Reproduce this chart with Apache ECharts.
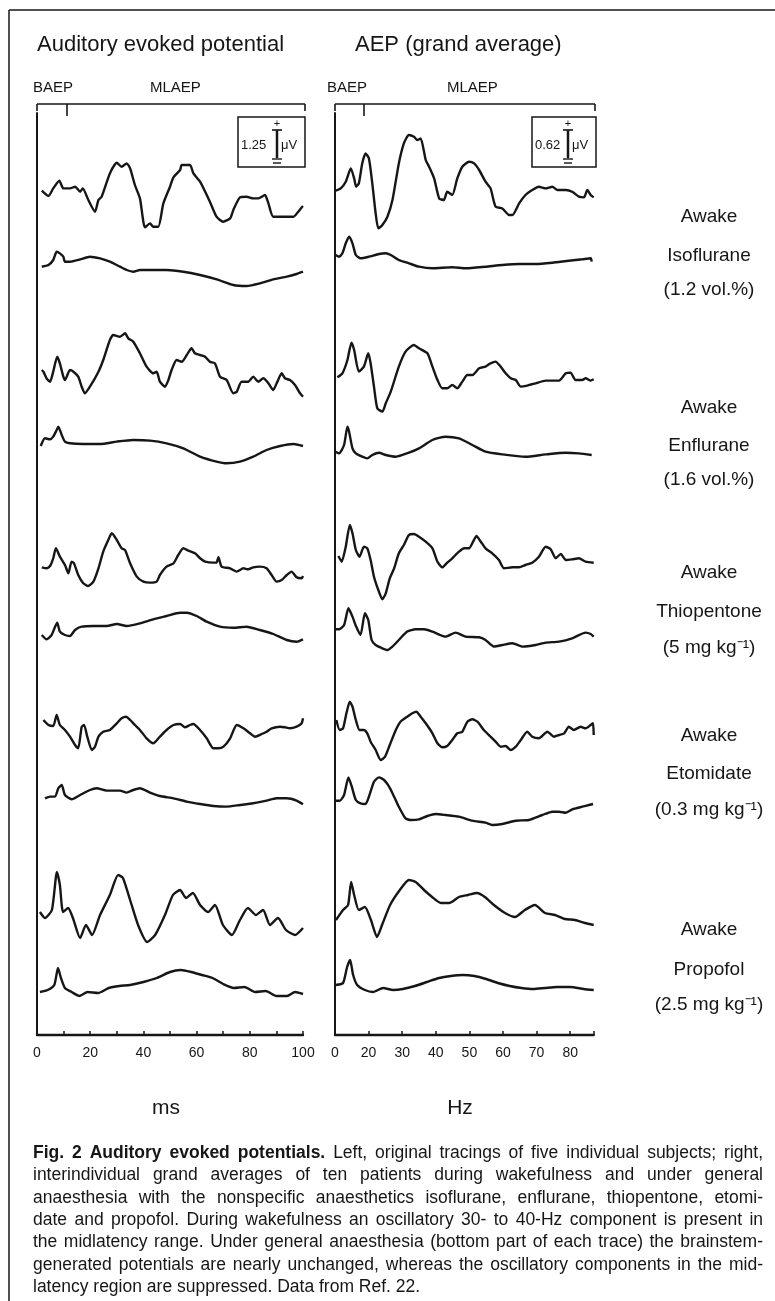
<!DOCTYPE html>
<html>
<head>
<meta charset="utf-8">
<script src="https://cdn.jsdelivr.net/npm/echarts/dist/echarts.min.js"></script>
<style>
  html, body { margin: 0; padding: 0; background: #fff; }
  #chart { width: 775px; height: 1301px; }
</style>
</head>
<body>
<div id="chart"></div>
<script>
// ---- data: [x, deflection] pairs (x in ms left, axis units right)
const leftIsoAwake = [[1.8,0],[4.3,-5.3],[6.1,2.3],[8.4,10],[9.9,2.3],[12.4,2.3],[14.3,4],[16.2,-1],[17.2,2.3],[19.3,-9.3],[21.8,-21],[23.1,-9.3],[24.3,-6],[27.4,17.3],[30,28],[31.8,24],[33.7,27.3],[35,22.3],[36.8,5.7],[38.7,-7.7],[40.6,-36.7],[42.5,-32.7],[43.7,-36],[45.6,-36],[47.5,-12.7],[50,4],[51.3,13.3],[53.8,20.7],[54.4,25.7],[57.5,25.7],[58.8,17.3],[61.3,9],[65,-11],[67.5,-26],[70,-31],[72.6,-27.7],[73.8,-19.3],[76.3,-6.7],[78.8,-6],[81.3,-7.7],[83.2,-7.7],[85.7,-4.3],[87,-12.7],[88.8,-26],[92.6,-26],[96.4,-26],[98.2,-21],[99.5,-16.7],[100,-15.3]];
const leftIso = [[1.8,0],[4.3,1.7],[6.1,6.7],[7.4,15],[8.6,13.3],[9.9,10],[10.5,5],[12.4,5],[16.2,7.3],[19.9,10],[23.7,8.3],[27.4,5],[31.2,0],[33.7,-3.3],[36.2,-5],[38.7,-3.3],[48.8,-3.3],[55,-5],[61.3,-8.3],[67.6,-12.7],[73.8,-18.3],[78.8,-19.3],[83.8,-16.7],[88.8,-12.7],[93.9,-10],[97.6,-7.3],[100,-5]];
const leftEnfAwake = [[1.8,0],[2.4,-1.7],[3.6,-8.3],[4.9,-11.7],[6.1,-1.7],[7.6,13.3],[8.6,6.7],[9.9,-6.7],[10.5,-10],[12.4,0],[13.7,-1.7],[15.5,-6.7],[16.8,-16.7],[18,-23.3],[19.9,-16.7],[23.1,-1.7],[24.9,10],[27.4,30],[28.7,35],[31.2,33.3],[33.1,36.7],[34.3,31.7],[36.2,28.3],[38.7,16.7],[41.2,3.3],[43.7,-3.3],[45,-1.7],[46.2,-11.7],[48.1,-16.7],[49.4,-10],[50.6,0],[52.5,10],[54.4,8.3],[56.3,15],[58.1,21.7],[59.4,16.7],[61.3,15],[63.2,13.3],[65,8.3],[66.9,6.7],[68.8,-6.7],[71.3,-10],[73.8,-23.3],[75.1,-21.7],[76.9,-11.7],[79.4,-11.7],[81.3,-6.7],[83.2,-11.7],[85.1,-8.3],[87,-13.3],[88.8,-20],[90.1,-13.3],[92,-3.3],[93.2,-8.3],[95.1,-10],[97,-15],[98.9,-23.3],[100,-26.7]];
const leftEnf = [[1.4,-2.7],[3,5],[4.9,4],[6.1,6.7],[7.4,13.3],[8,16.7],[9.3,8.3],[10.5,1.7],[12.4,0],[17.4,-0.7],[23.7,-0.7],[30,1.7],[36.2,3.3],[42.5,2.7],[48.7,0],[55,-5],[61.3,-13.3],[67.5,-18.3],[71.3,-20],[76.3,-18.3],[81.3,-13.3],[86.3,-6.7],[91.4,-2.7],[96.4,-0.7],[100,-2.7]];
const leftThioAwake = [[1.8,0],[3.6,-1],[4.9,1.3],[6.1,9],[7.1,19],[8.6,10.7],[10.5,2.3],[11.8,-6],[13,5.7],[13.9,4],[15.5,-7.7],[17.4,-16],[19.3,-18.7],[21.2,-14.3],[23.1,-1],[24.9,15.7],[26.8,27.3],[28.1,34],[30,27.3],[31.8,19],[33.1,17.3],[35,4],[37.5,-9.3],[40,-14.3],[42.5,-15.3],[45,-14.3],[46.2,-7.7],[48.7,0.7],[51.3,4],[53.1,12.3],[55,19],[56.9,16.7],[59.4,14],[61.3,9],[63.2,5.7],[66.3,4.7],[67.5,4.7],[68.2,10],[69.4,0.7],[72.6,-1],[75.1,-4.3],[77.6,-1],[79.4,-2],[81.3,0],[83.8,0.7],[86.3,-1],[88.2,-7.7],[90.1,-14.3],[92,-12.7],[93.9,-7.7],[95.7,-4.3],[97.6,-10],[99.5,-11],[100,-8.7]];
const leftThio = [[1.8,0],[3.6,-4.3],[5.5,0],[6.8,8.3],[7.6,12.3],[8.6,3.3],[10.5,0],[12.4,-1],[14.3,5],[16.8,8.3],[21.2,9],[26.2,9],[30,11],[33.7,9],[38.7,11.7],[43.7,15.7],[48.7,19],[53.8,22.3],[56.3,22.3],[60,19],[63.8,13.3],[68.8,8.3],[73.8,7.3],[78.8,8.3],[83.8,5],[88.8,1],[93.9,-5],[97.6,-6.7],[100,-4.3]];
const leftEtoAwake = [[2.4,0],[4.3,-5],[6.1,-6],[7.4,5],[8.6,-5],[10.5,-10],[12.4,-16.7],[14.3,-25],[15.5,-28.3],[16.8,-6.7],[17.7,-5],[18.9,-16.7],[20.6,-30],[21.8,-26.7],[23.1,-16.7],[24.9,-11.7],[27.4,-10],[30,-3.3],[31.8,1.7],[33.5,3.3],[35,0],[36.8,-5],[38.7,-10],[41.2,-18.3],[43.7,-23.3],[46.2,-16.7],[48.7,-10],[51.3,-5],[53.8,-4],[55.6,-7.3],[57.5,-5],[58.8,-4],[61.3,-10],[63.8,-18.3],[66.3,-28.3],[68.2,-28.3],[70.1,-26.7],[72.6,-18.3],[75.1,-5],[77.6,-8.3],[80.1,-13.3],[82,-16.7],[84.5,-14],[86.3,-11.7],[88.2,-8.3],[91.4,-6.7],[93.2,-7.3],[95.1,-8.3],[97.6,-6.7],[99.5,-3.3],[100,1.7]];
const leftEto = [[3,0],[4.9,1.7],[6.8,1.7],[8,10],[9.3,13.3],[10.5,3.3],[13,-1],[16.2,3.3],[19.9,8.3],[22.4,10],[26.2,7.7],[31.2,7.7],[33.7,5.7],[36.2,8.3],[38.7,10],[42.5,5.7],[46.2,2.3],[51.3,0],[56.3,-3.3],[61.3,-5.7],[66.3,-7.7],[71.3,-8.3],[76.3,-6.7],[81.3,-5],[86.3,-2.3],[90.1,0],[93.9,0],[97.6,-2.3],[100,-6]];
const leftPropAwake = [[1.1,3],[3,-3],[5.6,5],[7.5,43],[8.6,30],[9.8,3],[11.7,7],[13.5,-3],[16.2,-23],[18.4,-10],[20.7,-20],[23.7,0],[27.4,20],[30.5,40],[32.3,37],[35,15],[38,-10],[41.4,-27],[44.4,-20],[48.1,0],[51.1,20],[53.8,25],[56,17],[58.6,22],[61.3,10],[64.3,3],[66.9,10],[69.9,-10],[73.3,-20],[76.3,-5],[79.3,7],[82.3,0],[85,5],[87.6,-10],[90.6,-3],[93.6,-15],[97,-20],[100,-13]];
const leftProp = [[1.1,-2],[4,0],[6.5,5],[7.9,22],[9,12],[10.5,2],[13,-2],[16,-6],[19,-2],[23,-3],[27,2],[31,4],[35,5],[40,8],[45,12],[50,18],[54,20],[58,18],[62,15],[66,12],[70,6],[74,2],[78,3],[82,-2],[86,-1],[90,-6],[94,-6],[97,-2],[100,-4]];

const rightIsoAwake = [[0.2,0],[1.7,2.3],[3.2,9],[4.7,22.3],[5.7,12.3],[6.3,4],[7.1,7.3],[8.1,27.3],[9.1,37.3],[10.1,32.3],[11.1,7.3],[12.1,-22.7],[12.9,-37.7],[14.1,-34.3],[15.6,-26],[17.1,-9.3],[19,27.3],[20.5,47.3],[22,55.7],[23.5,54],[24.5,50.7],[25.5,52.3],[27,30.7],[28,24],[29.5,12.3],[31,-7.7],[32.4,-9.3],[33.4,-1],[34.9,-4.3],[36.4,12.3],[37.9,24],[39.9,29],[41.4,27.3],[42.9,20.7],[44.8,9],[46.3,2.3],[47.8,-16],[49.8,-17.7],[51.8,-24.3],[52.8,-24.3],[54.8,-12.7],[56.7,-4.3],[58.7,0.7],[60.7,4],[62.7,2.3],[64.7,4],[66.2,0.7],[68.7,0.7],[70.6,-1],[72.6,-6],[74.1,-6.7],[75.1,0.7],[76.1,-4.3],[77,-6.7]];
const rightIso = [[0.2,0],[1.2,-1.7],[2.2,1.7],[3.2,11.7],[4.2,18.3],[5.2,11.7],[6.2,0],[7.6,-3.3],[10.1,-1.7],[13.1,1],[15.1,1.7],[16.6,0],[19,-5],[22,-8.3],[25,-11.7],[29,-13.3],[34.9,-12.3],[38.9,-13.3],[44.8,-11.7],[49.8,-10],[54.8,-9],[59.7,-9],[64.7,-7.7],[69.6,-5.7],[73.6,-4.3],[76.1,-3.3],[76.4,-6.7]];
const rightEnfAwake = [[0.7,0],[2.2,4],[3.7,17.3],[4.9,34.7],[5.7,27.3],[7.1,5.7],[8.6,10.7],[9.9,24],[10.6,14],[11.6,-9.3],[12.6,-31],[14.1,-34.3],[15.1,-26],[16.6,-14.3],[19,10.7],[21,25.7],[23.5,32.3],[25,29],[27.5,24],[29,10.7],[30.5,-2.7],[31.9,-11],[33.4,-11],[34.9,-7.7],[36.4,-11],[37.9,-4.3],[39.4,2.3],[40.9,2.3],[42.9,9],[44.8,10.7],[46.3,14],[47.8,15.7],[49.3,10.7],[50.8,4],[52.3,-1],[53.8,-2.7],[55.3,-9.3],[57.2,-8.3],[59.7,-6],[62.7,-3.3],[66.7,-3.3],[68.7,4],[70.1,4.7],[71.6,-2.7],[73.6,-2.7],[74.6,-1],[76.1,-3.3],[77,-2]];
const rightEnf = [[0,0],[1.2,-1.7],[2.7,6.7],[3.7,25],[4.2,20],[5.2,3.3],[6.2,-1.7],[8.1,-5],[9.6,-6.7],[11.1,-3.3],[13.1,-1],[15.1,-3.3],[18.1,-5],[22,-1],[25,3.3],[29,11.7],[32.9,15],[36.9,13.3],[40.9,6.7],[44.8,0],[49.8,-2.7],[56.7,-5],[62.7,-2.7],[68.7,-1],[72.6,-1.7],[76.4,-3.3]];
const rightThioAwake = [[1,0],[2,-5.7],[3.2,9.3],[4.4,31],[5.2,22.7],[6.2,6],[7.3,-0.7],[8.6,9.3],[9.6,7.7],[10.6,-4],[11.6,-20.7],[12.9,-34],[14.1,-43.3],[15.1,-37.3],[16.3,-22.3],[17.6,-12.3],[19,2.7],[20.5,11],[22,21],[23.5,22],[25,19.3],[27,14.3],[29,7.7],[30.5,-5.7],[31.9,-11.3],[33.4,-6.7],[34.9,-2.3],[36.9,4.3],[38.4,7.7],[39.9,7.7],[41.1,14.3],[42.1,20],[43.4,14.3],[44.8,7.7],[46.8,2.7],[48.8,-4],[50.3,-12.3],[52.8,-11.3],[54.8,-11.3],[56.7,-9],[58.7,-6.7],[60.7,-0.7],[62.7,9.3],[64.2,6.7],[65.7,-2.3],[67.2,2],[68.7,-4],[70.6,-3.3],[72.6,-2.3],[74.6,-5.7],[77,-6.7]];
const rightThio = [[0,0],[1.2,0],[2.7,4.3],[4,21],[5.2,12.7],[6.3,2.7],[7.6,-5.7],[8.9,16],[9.9,9.3],[10.9,-10.7],[12.1,-15.7],[14.1,-19],[15.6,-20.7],[17.1,-17.3],[19,-10.7],[21.5,-2.3],[24,0],[26.5,0],[29,-2.3],[32.9,-7.3],[35.9,-3.3],[38.9,-7.3],[42.9,-8],[44.8,-10.7],[47.3,-17.3],[49.8,-15.7],[52.8,-14],[55.8,-17.3],[59.7,-15.7],[62.7,-13.3],[66.7,-12.3],[70.6,-9],[74.6,-3.3],[76.1,-4.7],[77,-7.3]];
const rightEtoAwake = [[0.4,0],[1.4,-10],[2.4,-8.3],[3.4,6.7],[4.4,18.3],[5.2,13.3],[6.2,0],[7.3,-10],[8.6,-10],[9.6,-13.3],[10.6,-21.7],[12.1,-30],[13.6,-40],[14.9,-36.7],[16.3,-25],[18.1,-10],[19.5,-1.7],[21.5,3.3],[23,6.7],[24.2,8.3],[25.5,3.3],[27,-3.3],[29,-13.3],[30.5,-23.3],[31.9,-27.3],[33.4,-26],[34.9,-20],[36.4,-13.3],[37.9,-11.7],[39.4,-1.7],[40.9,0.7],[42.4,-1.7],[44.3,-10],[46.3,-16.7],[47.8,-21.7],[49.3,-26.7],[50.8,-26],[52.3,-30],[53.8,-26.7],[55.3,-20],[57.2,-11.7],[58.7,-16.7],[60.7,-18.3],[63.2,-11.7],[65.2,-16.7],[66.7,-15],[68.2,-13.3],[69.6,-6.7],[71.1,-10],[73.1,-6.7],[74.6,-8.3],[76.1,-5],[76.8,-3.3],[77,-15]];
const rightEto = [[0,0],[1.4,0],[2.7,5.7],[4,23.3],[5,14],[6.2,0.7],[7.6,-2.7],[9.1,-3.3],[10.1,4],[11.6,19],[13.1,23.3],[14.6,20.7],[16.1,14],[17.6,4],[19,-6],[21,-17.7],[22.5,-19.3],[25,-18.7],[27.5,-15.3],[30,-13.3],[32.9,-14.3],[36.9,-16],[40.9,-20],[44.8,-22],[46.8,-24.3],[49.8,-23.3],[53.8,-20],[57.7,-19.3],[61.7,-14.3],[64.7,-11],[66.7,-11],[68.7,-12],[70.6,-8.7],[73.6,-6],[75.6,-4.3],[76.8,-3.3]];
const rightPropAwake = [[0.3,-5],[2.4,5],[3.9,10],[4.8,33],[5.7,20],[7.1,5],[8.9,8],[10.7,-5],[12.5,-22],[14,-10],[16.4,10],[19.3,25],[22,35],[24,33],[26.5,25],[28.9,18],[31.5,12],[34,12],[36.9,18],[39.6,20],[42.3,22],[44.6,18],[47.3,10],[50.6,2],[53.6,-2],[56.5,5],[59.5,10],[62.5,2],[65.5,0],[68.4,-4],[71.4,-5],[74.4,-8],[77,-10]];
const rightProp = [[0.3,0],[2.4,2],[3.6,18],[4.5,25],[5.4,10],[6.6,0],[8.9,-5],[11.3,-7],[14.3,-3],[17.3,-5],[20.2,-4],[23.8,-1],[27.4,3],[31,7],[34.5,9],[38,10],[41.5,9],[45,6],[48.5,2],[52,-1],[55.5,-3],[59,-4],[62.5,-3],[66,-2],[70,-2],[74,-4],[77,-5]];

const leftTicks = [0, 10, 20, 30, 40, 50, 60, 70, 80, 90, 100];
const leftTickLabels = ['0', '', '20', '', '40', '', '60', '', '80', '', '100'];
const rightTicks = [0, 10, 20, 30, 40, 50, 60, 70];
const rightTickLabels = ['0', '20', '30', '40', '50', '60', '70', '80'];

const drugs = ['Isoflurane', 'Enflurane', 'Thiopentone', 'Etomidate', 'Propofol'];
const doses = ['(1.2 vol.%)', '(1.6 vol.%)', '(5 mg kg\u207B\u00B9)', '(0.3 mg kg\u207B\u00B9)', '(2.5 mg kg\u207B\u00B9)'];

const captionLines = [
  [{ b: true, t: 'Fig. 2 Auditory evoked potentials.' }, { t: 'Left, original tracings of five individual subjects; right,' }],
  [{ t: 'interindividual grand averages of ten patients during wakefulness and under general' }],
  [{ t: 'anaesthesia with the nonspecific anaesthetics isoflurane, enflurane, thiopentone, etomi-' }],
  [{ t: 'date and propofol. During wakefulness an oscillatory 30- to 40-Hz component is present in' }],
  [{ t: 'the midlatency range. Under general anaesthesia (bottom part of each trace) the brainstem-' }],
  [{ t: 'generated potentials are nearly unchanged, whereas the oscillatory components in the mid-' }],
  [{ t: 'latency region are suppressed. Data from Ref. 22.' }]
];

// ---- layout
const FONT = '"Liberation Sans", Arial, sans-serif';
const INK = '#161616';
const AXIS_Y = 1035;       // pixel row of the x axes
const leftTraces = [leftIsoAwake, leftIso, leftEnfAwake, leftEnf, leftThioAwake, leftThio, leftEtoAwake, leftEto, leftPropAwake, leftProp];
const rightTraces = [rightIsoAwake, rightIso, rightEnfAwake, rightEnf, rightThioAwake, rightThio, rightEtoAwake, rightEto, rightPropAwake, rightProp];
const leftBase = [190.7, 266.7, 370, 443.3, 567.3, 635, 720, 798.3, 915, 990];
const rightBase = [190.7, 255, 377.3, 451.7, 556, 629.3, 720, 800.7, 915, 985];
const awakeY = [217, 408, 573, 736, 930];
const drugY = [256, 446, 612, 774, 970];
const doseY = [290, 480, 648, 810, 1005];

const chart = echarts.init(document.getElementById('chart'), null, { renderer: 'canvas' });

function traceSeries(trace, base, idx) {
  return {
    type: 'line', xAxisIndex: idx, yAxisIndex: idx,
    data: trace.map(p => [p[0], p[1] + AXIS_Y - base]),
    symbol: 'none', smooth: 0.2, silent: true,
    lineStyle: { color: INK, width: 2.4 }
  };
}

function txt(x, y, text, size, extra) {
  return Object.assign({ type: 'text', x, y, silent: true,
    style: Object.assign({ text, font: size + 'px ' + FONT, fill: INK, verticalAlign: 'middle' }, extra || {}) });
}
function seg(x1, y1, x2, y2, w) {
  return { type: 'line', silent: true, shape: { x1, y1, x2, y2 }, style: { stroke: INK, lineWidth: w || 1.6 } };
}

function bracket(x0, xd, x1) {
  return [seg(x0, 104, x1, 104, 1.6), seg(x0, 104, x0, 111), seg(x1, 104, x1, 111), seg(xd, 104, xd, 116)];
}
function calBox(x, w, barX, label) {
  return [
    { type: 'rect', silent: true, shape: { x, y: 117, width: w, height: 50 }, style: { fill: 'none', stroke: INK, lineWidth: 1.5 } },
    txt(x + 3, 145, label, 13),
    txt(barX, 124, '+', 11, { align: 'center' }),
    seg(barX - 5, 130, barX + 5, 130, 1.6),
    seg(barX, 130, barX, 158, 2.5),
    seg(barX - 5, 159, barX + 5, 159, 1.4),
    seg(barX - 4, 163, barX + 4, 163, 1.4),
    txt(barX + 4, 145, '\u03BCV', 13)
  ];
}

// caption: lines justified like the print; a line that would overflow gets squeezed
const measureCtx = document.createElement('canvas').getContext('2d');
const CAP_SIZE = 17.5, CAP_LEFT = 33, CAP_RIGHT = 763, CAP_TOP = 1153, CAP_STEP = 22.4;
function captionGraphics() {
  const out = [];
  const avail = CAP_RIGHT - CAP_LEFT;
  captionLines.forEach((line, li) => {
    const words = [];
    line.forEach(s => s.t.split(' ').filter(Boolean).forEach(w =>
      words.push({ w, font: (s.b ? 'bold ' : '') + CAP_SIZE + 'px ' + FONT })));
    words.forEach(o => { measureCtx.font = o.font; o.width = measureCtx.measureText(o.w).width; });
    measureCtx.font = CAP_SIZE + 'px ' + FONT;
    const space = measureCtx.measureText(' ').width;
    const total = words.reduce((s, o) => s + o.width, 0);
    const natural = total + space * (words.length - 1);
    const squeeze = natural > avail ? avail / natural : 1;
    const last = li === captionLines.length - 1;
    const gap = last ? space * squeeze : (avail - total * squeeze) / (words.length - 1);
    let x = CAP_LEFT;
    const y = CAP_TOP + li * CAP_STEP;
    words.forEach(o => {
      out.push({ type: 'text', x, y, scaleX: squeeze, silent: true,
        style: { text: o.w, font: o.font, fill: INK, verticalAlign: 'middle' } });
      x += o.width * squeeze + gap;
    });
  });
  return out;
}

const graphics = [].concat(
  [seg(9, 10, 775, 10, 1.5), seg(9, 10, 9, 1301, 1.5)],
  [txt(37, 45, 'Auditory evoked potential', 22), txt(355, 45, 'AEP (grand average)', 22)],
  [txt(33, 88, 'BAEP', 15), txt(150, 88, 'MLAEP', 15), txt(327, 88, 'BAEP', 15), txt(447, 88, 'MLAEP', 15)],
  bracket(37, 67, 305), bracket(335, 364, 595),
  calBox(238, 67, 277, '1.25'), calBox(532, 64, 568, '0.62'),
  awakeY.map(y => txt(709, y, 'Awake', 19, { align: 'center' })),
  drugs.map((d, i) => txt(709, drugY[i], d, 19, { align: 'center' })),
  doses.map((d, i) => txt(709, doseY[i], d, 19, { align: 'center' })),
  [txt(166, 1108, 'ms', 21, { align: 'center' }), txt(460, 1108, 'Hz', 21, { align: 'center' })],
  captionGraphics()
);

function xAxisFor(gridIndex, max, ticks, labels) {
  return {
    type: 'value', gridIndex, min: 0, max, interval: 10,
    axisLine: { show: true, lineStyle: { color: INK, width: 2.4 } },
    axisTick: { show: true, inside: true, length: 4, lineStyle: { color: INK, width: 1.5 } },
    axisLabel: {
      color: INK, fontSize: 14, fontFamily: FONT, margin: 11,
      formatter: v => { const i = ticks.indexOf(v); return i < 0 ? '' : labels[i]; }
    },
    splitLine: { show: false }
  };
}
function yAxisFor(gridIndex) {
  return {
    type: 'value', gridIndex, min: 0, max: AXIS_Y - 113,
    axisLine: { show: true, lineStyle: { color: INK, width: 2 } },
    axisTick: { show: false }, axisLabel: { show: false }, splitLine: { show: false }
  };
}

chart.setOption({
  animation: false,
  backgroundColor: '#fff',
  grid: [
    { left: 37, top: 113, width: 266, height: AXIS_Y - 113 },
    { left: 335, top: 113, width: 258.7, height: AXIS_Y - 113 }
  ],
  xAxis: [xAxisFor(0, 100, leftTicks, leftTickLabels), xAxisFor(1, 77, rightTicks, rightTickLabels)],
  yAxis: [yAxisFor(0), yAxisFor(1)],
  series: leftTraces.map((t, i) => traceSeries(t, leftBase[i], 0))
    .concat(rightTraces.map((t, i) => traceSeries(t, rightBase[i], 1))),
  graphic: graphics
});
</script>
</body>
</html>
